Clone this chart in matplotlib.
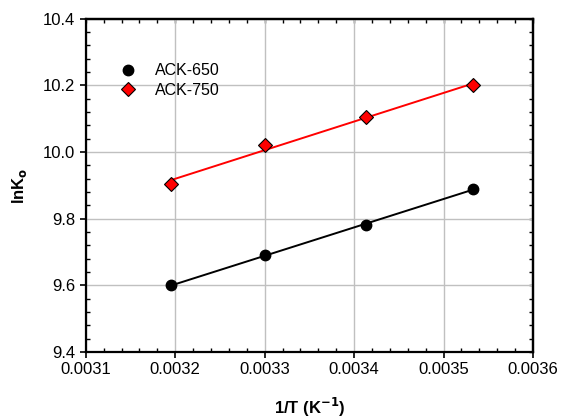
import numpy as np
import matplotlib.pyplot as plt
from matplotlib.ticker import MultipleLocator

plt.rcParams['font.family'] = ['Liberation Sans', 'DejaVu Sans']

inv_T = [0.003195, 0.0033, 0.003413, 0.003533]
lnK_650 = [9.60, 9.69, 9.78, 9.89]
lnK_750 = [9.905, 10.02, 10.105, 10.20]

fig = plt.figure(figsize=(5.61, 4.18), dpi=100)
ax = fig.add_axes([0.153, 0.158, 0.797, 0.797])

# straight-line fits through each series
x = np.array(inv_T)
for y, c in [(lnK_650, 'black'), (lnK_750, 'red')]:
    k, b = np.polyfit(x, y, 1)
    ax.plot([x[0], x[-1]], [k * x[0] + b, k * x[-1] + b], color=c, lw=1.4, zorder=2)

ax.plot(inv_T, lnK_650, 'o', color='black', ms=7.5, ls='none', label='ACK-650', zorder=3)
ax.plot(inv_T, lnK_750, 'D', color='red', mec='black', mew=0.8, ms=7.5, ls='none',
        label='ACK-750', zorder=3)

ax.set_xlim(0.0031, 0.0036)
ax.set_ylim(9.4, 10.4)
ax.xaxis.set_major_locator(MultipleLocator(0.0001))
ax.xaxis.set_minor_locator(MultipleLocator(0.00002))
ax.yaxis.set_major_locator(MultipleLocator(0.2))
ax.yaxis.set_minor_locator(MultipleLocator(0.04))
ax.xaxis.set_major_formatter(plt.FuncFormatter(lambda v, p: f'{v:.4f}'))
ax.yaxis.set_major_formatter(plt.FuncFormatter(lambda v, p: f'{v:.1f}'))

ax.grid(True, which='major', color='#c0c0c0', lw=1)
ax.set_axisbelow(True)
ax.tick_params(which='major', direction='out', length=4, width=1.2, labelsize=12)
ax.tick_params(which='minor', direction='in', length=3, width=1)
for s in ax.spines.values():
    s.set_linewidth(1.6)

# inward ticks only on the top and right frame
top = ax.secondary_xaxis('top')
right = ax.secondary_yaxis('right')
top.xaxis.set_major_locator(MultipleLocator(0.0001))
top.xaxis.set_minor_locator(MultipleLocator(0.00002))
right.yaxis.set_major_locator(MultipleLocator(0.2))
right.yaxis.set_minor_locator(MultipleLocator(0.04))
for sec in (top, right):
    sec.tick_params(which='both', direction='in', length=3, width=1,
                    labeltop=False, labelright=False)
    for s in sec.spines.values():
        s.set_linewidth(1.6)

ax.set_xlabel('1/T (K$^{\\mathbf{-1}}$)', fontsize=12, fontweight='bold', labelpad=13)
ax.set_ylabel('lnK$_\\mathbf{o}$', fontsize=12, fontweight='bold', labelpad=10)

ax.legend(loc='upper left', bbox_to_anchor=(0.04, 0.91), frameon=False, fontsize=11.5,
          handletextpad=1.1, labelspacing=0.3, handlelength=1.2)

fig.savefig('out.png', dpi=100)
